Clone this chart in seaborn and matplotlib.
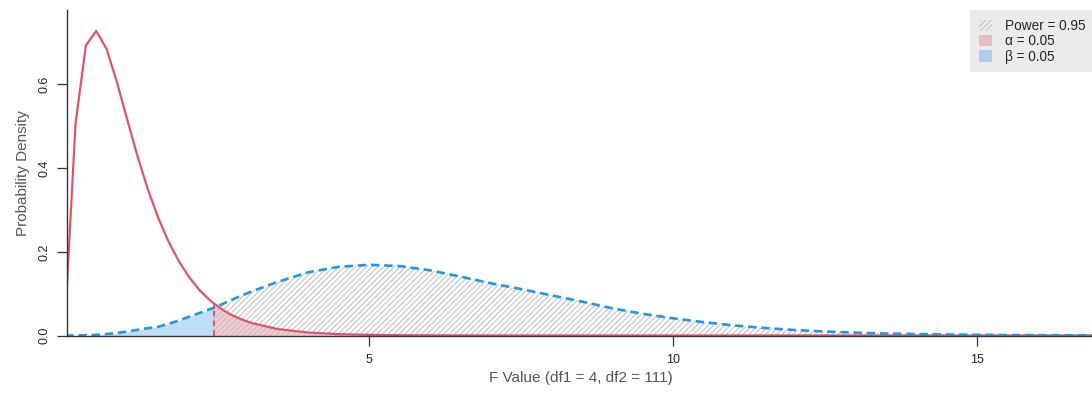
import numpy as np
import pandas as pd
import matplotlib
matplotlib.use("Agg")
import matplotlib.pyplot as plt
from matplotlib.patches import Patch
import seaborn as sns

# ---- data ----
f_values = [0.01, 0.18, 0.35, 0.52, 0.69, 0.86, 1.03, 1.20, 1.37, 1.54, 1.71, 1.88,
            2.05, 2.22, 2.39, 2.45, 2.56, 2.73, 2.90, 3.07, 3.5, 4.0, 4.5, 5.0, 5.5,
            6.0, 6.5, 7.0, 7.5, 8.0, 8.5, 9.0, 9.5, 10.0, 10.5, 11.0, 11.5, 12.0,
            12.5, 13.0, 13.5, 14.0, 14.5, 15.0, 15.5, 16.0, 16.5, 17.0]
null_density = [0.040, 0.506, 0.693, 0.728, 0.685, 0.606, 0.516, 0.428, 0.349, 0.281,
                0.224, 0.177, 0.139, 0.108, 0.084, 0.077, 0.065, 0.050, 0.039, 0.030,
                0.0154, 0.0071, 0.0032, 0.0015, 0.0007, 0.0003, 0.00014, 0.00007,
                0.00003, 0.00001, 0, 0, 0, 0, 0, 0, 0, 0, 0, 0, 0, 0, 0, 0, 0, 0, 0, 0]
alt_density = [0.0000, 0.0001, 0.0005, 0.0015, 0.0035, 0.0060, 0.0095, 0.0135, 0.0175,
               0.0210, 0.0280, 0.0360, 0.0450, 0.0540, 0.0630, 0.0660, 0.0730, 0.0840,
               0.0950, 0.1050, 0.1280, 0.1510, 0.1640, 0.1690, 0.1660, 0.1560, 0.1410,
               0.1250, 0.1110, 0.0960, 0.0810, 0.0650, 0.0520, 0.0410, 0.0320, 0.0240,
               0.0180, 0.0130, 0.0095, 0.0068, 0.0048, 0.0034, 0.0024, 0.0016, 0.0011,
               0.0007, 0.0005, 0.0003]
critical_f = 2.45
legend_labels = ["Power = 0.95", "\u03b1 = 0.05", "\u03b2 = 0.05"]
x_ticks = [5, 10, 15]
y_ticks = [0.0, 0.2, 0.4, 0.6]

RED = "#DF536B"
BLUE = "#2297E6"
HATCH_GREY = "#bdbdbd"

sns.set_style("white")
plt.rcParams["font.family"] = ["Liberation Sans", "DejaVu Sans"]
plt.rcParams["hatch.linewidth"] = 0.7
plt.rcParams["hatch.color"] = HATCH_GREY

df = pd.DataFrame({"F": f_values, "null": null_density, "alt": alt_density})
x = df["F"].to_numpy()
y0 = df["null"].to_numpy()
y1 = df["alt"].to_numpy()

fig = plt.figure(figsize=(10.92, 3.94), dpi=100)
ax = fig.add_axes([66.7 / 1092, 58.5 / 394, 1 - 66.7 / 1092 + 0.002, (394 - 58.5 - 10) / 394])

left = x <= critical_f
right = x >= critical_f

# beta region
ax.fill_between(x[left], 0, y1[left], color=BLUE, alpha=0.3, linewidth=0)
# alpha region
ax.fill_between(x[right], 0, y0[right], color=RED, alpha=0.3, linewidth=0)
# power region (hatched)
ax.fill_between(x[right], 0, y1[right], facecolor="none", edgecolor=HATCH_GREY,
                hatch="//////", linewidth=0)

sns.lineplot(data=df, x="F", y="null", ax=ax, color=RED, linewidth=1.6, sort=False)
sns.lineplot(data=df, x="F", y="alt", ax=ax, color=BLUE, linewidth=1.9, sort=False)
ax.lines[-1].set_dashes((3.2, 1.8))

crit_idx = f_values.index(critical_f)
ax.vlines(critical_f, 0, null_density[crit_idx], colors=RED, linestyles=(0, (3, 2)),
          linewidth=1.4)

ax.set_xlim(0.035, 16.92)
ax.set_ylim(0, 0.778)
ax.set_xticks(x_ticks)
ax.set_xticklabels([str(t) for t in x_ticks])
ax.set_yticks(y_ticks)
ax.set_yticklabels([f"{t:.1f}" for t in y_ticks], rotation=90, va="center")

for s in ["top", "right"]:
    ax.spines[s].set_visible(False)
for s in ["left", "bottom"]:
    ax.spines[s].set_color("#333333")
    ax.spines[s].set_linewidth(1.0)

ax.tick_params(axis="both", which="both", direction="out", length=7, width=0.9,
               color="#333333", labelsize=9, labelcolor="#222222",
               bottom=True, left=True)
ax.tick_params(axis="x", pad=6)
ax.tick_params(axis="y", pad=5)

ax.set_xlabel("F Value (df1 = 4, df2 = 111)", fontsize=11, color="#555555", labelpad=4)
ax.set_ylabel("Probability Density", fontsize=11, color="#555555", labelpad=6)

handles = [
    Patch(facecolor="none", edgecolor=HATCH_GREY, hatch="//////", linewidth=0),
    Patch(facecolor=RED, alpha=0.3, linewidth=0),
    Patch(facecolor=BLUE, alpha=0.3, linewidth=0),
]
leg = ax.legend(handles, legend_labels, loc="upper right", bbox_to_anchor=(1.0, 1.0),
                frameon=True, fontsize=9.8, handlelength=1.0, handleheight=0.9,
                handletextpad=0.9, borderaxespad=0, borderpad=0.65, labelspacing=0.1,
                fancybox=False)
leg.get_frame().set_facecolor("#ebebeb")
leg.get_frame().set_edgecolor("none")
leg.get_frame().set_alpha(1)

fig.savefig("out.png", dpi=100)
